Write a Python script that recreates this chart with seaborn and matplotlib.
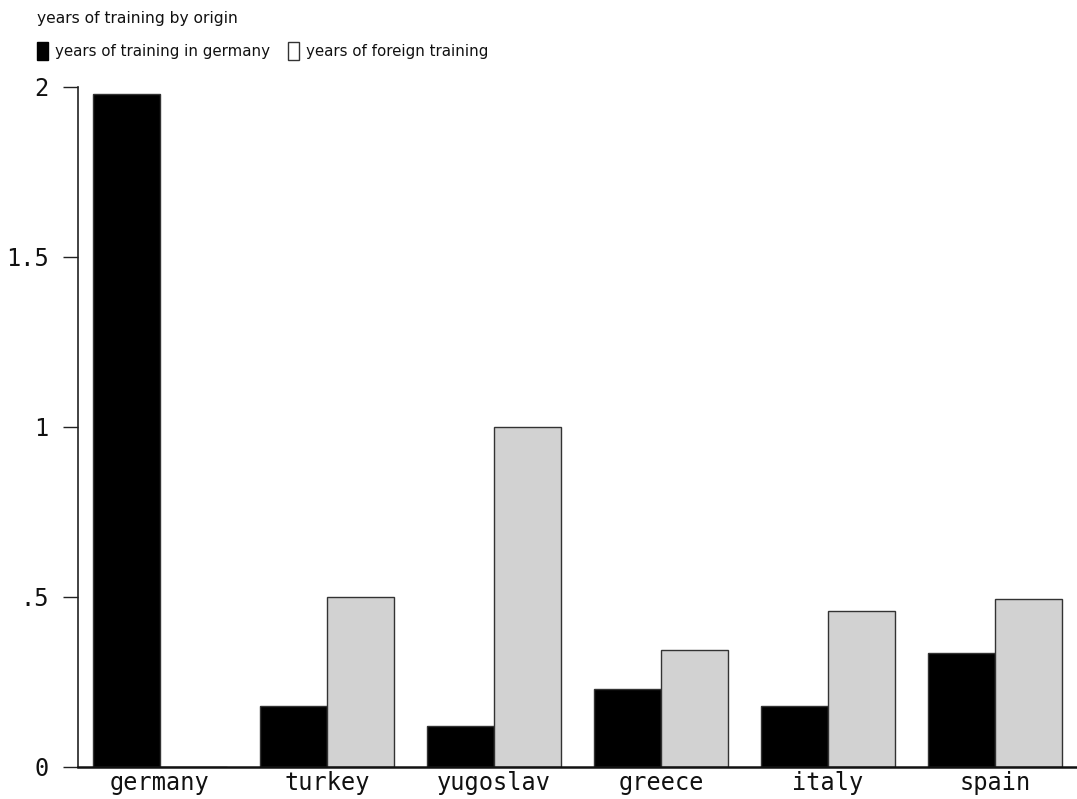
import matplotlib
matplotlib.use("Agg")
import matplotlib.pyplot as plt
from matplotlib.patches import Patch
import seaborn as sns
import pandas as pd

# ---- data ----
origins = ["germany", "turkey", "yugoslav", "greece", "italy", "spain"]
years_germany = [1.98, 0.18, 0.12, 0.23, 0.18, 0.335]
years_foreign = [0.0, 0.50, 1.00, 0.345, 0.46, 0.495]
series_labels = ["years of training in germany", "years of foreign training"]
legend_title = "years of training by origin"
y_ticks = [0, 0.5, 1, 1.5, 2]
y_ticklabels = ["0", ".5", "1", "1.5", "2"]

df = pd.DataFrame({
    "origin": origins * 2,
    "years": years_germany + years_foreign,
    "series": [series_labels[0]] * len(origins) + [series_labels[1]] * len(origins),
})

sns.set_theme(style="white")
plt.rcParams["font.family"] = ["DejaVu Sans Mono", "DejaVu Sans"]

W, H = 1077, 799
fig = plt.figure(figsize=(W / 100, H / 100), dpi=100)
ax = fig.add_axes([78 / W, 32 / H, (W - 78) / W, (767 - 87) / H])

sns.barplot(
    data=df, x="origin", y="years", hue="series", order=origins,
    hue_order=series_labels, palette=["#000000", "#d2d2d2"],
    edgecolor="#333333", linewidth=1.0, width=0.8, ax=ax, legend=False,
    saturation=1,
)

ax.set_xlim(-0.49, 5.49)
ax.set_ylim(0, 2)
ax.set_yticks(y_ticks)
ax.set_yticklabels(y_ticklabels)
ax.set_xlabel("")
ax.set_ylabel("")
for s in ["top", "right"]:
    ax.spines[s].set_visible(False)
ax.spines["left"].set_color("#222222")
ax.spines["left"].set_linewidth(1.2)
ax.spines["bottom"].set_color("#111111")
ax.spines["bottom"].set_linewidth(1.8)
ax.tick_params(axis="y", length=11, width=1.0, color="#222222", pad=10,
               labelsize=17, labelcolor="#111111", left=True, direction="out")
ax.tick_params(axis="x", length=0, pad=3, labelsize=17, labelcolor="#111111")

handles = [
    Patch(facecolor="#000000", edgecolor="#000000"),
    Patch(facecolor="white", edgecolor="#333333", linewidth=1.0),
]
leg_font = ["DejaVu Sans"]
leg = fig.legend(
    handles, series_labels, title=legend_title, ncol=2,
    loc="upper left", bbox_to_anchor=(37 / W, 1 - 11 / H),
    frameon=False, prop={"family": leg_font, "size": 10.8},
    title_fontproperties={"family": leg_font, "size": 11.2},
    handlelength=0.75, handleheight=1.45, handletextpad=0.45,
    columnspacing=1.2, borderpad=0, borderaxespad=0, labelspacing=1.05,
    alignment="left",
)
leg.get_title().set_color("#111111")
for t in leg.get_texts():
    t.set_color("#111111")

fig.savefig("out.png", dpi=100, facecolor="white")
